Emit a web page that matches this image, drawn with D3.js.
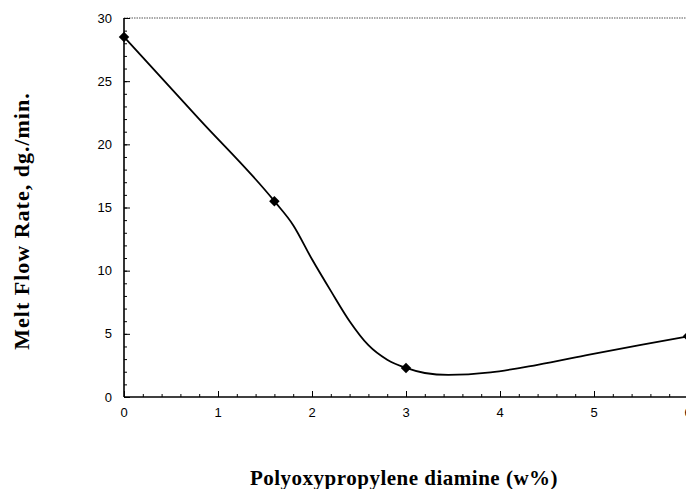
<!DOCTYPE html>
<html>
<head>
<meta charset="utf-8">
<script src="https://cdn.jsdelivr.net/npm/d3@7"></script>
<style>
  body { margin: 0; background: #fff; }
  svg { display: block; }
</style>
</head>
<body>
<div id="vis"></div>
<script>
const AMINE = [0, 1.6, 3, 6];
const MFR = [28.5, 15.5, 2.3, 4.8];

// smoothed curve as drawn in the picture
const CURVE_X = [0, 0.8, 1.6, 1.8, 2.0, 2.2, 2.4, 2.6, 2.8, 3.0, 3.2, 3.45, 3.9, 4.4, 4.95, 5.5, 6];
const CURVE_Y = [28.5, 22.0, 15.5, 13.6, 10.9, 8.4, 6.0, 4.1, 2.95, 2.3, 1.9, 1.75, 1.95, 2.55, 3.35, 4.12, 4.8];

const X_TICKS = [0, 1, 2, 3, 4, 5, 6];
const Y_TICKS = [0, 5, 10, 15, 20, 25, 30];

const FRAME_WIDTH = 686;
const FRAME_HEIGHT = 489;
const MARGINS = {left: 124, top: 18, right: -2, bottom: 92};

const VIS_WIDTH = FRAME_WIDTH - MARGINS.left - MARGINS.right;
const VIS_HEIGHT = FRAME_HEIGHT - MARGINS.top - MARGINS.bottom;

const FRAME = d3.select("#vis")
                .append("svg")
                .attr("width", FRAME_WIDTH)
                .attr("height", FRAME_HEIGHT);

const PLOT = FRAME.append("g")
                  .attr("transform", "translate(" + MARGINS.left + "," + MARGINS.top + ")");

const X_SCALE = d3.scaleLinear().domain([0, 6]).range([0, VIS_WIDTH]);
const Y_SCALE = d3.scaleLinear().domain([0, 30]).range([VIS_HEIGHT, 0]);

// dotted top border
PLOT.append("line")
    .attr("x1", 0).attr("x2", VIS_WIDTH)
    .attr("y1", 0).attr("y2", 0)
    .attr("stroke", "#555")
    .attr("stroke-width", 1.2)
    .attr("stroke-dasharray", "1.5,1");

// minor ticks (inward)
PLOT.append("g")
    .attr("transform", "translate(0," + VIS_HEIGHT + ")")
    .call(d3.axisTop(X_SCALE).ticks(30).tickSize(3).tickFormat(""))
    .call(g => g.select(".domain").remove());

PLOT.append("g")
    .call(d3.axisRight(Y_SCALE).ticks(30).tickSize(3).tickFormat(""))
    .call(g => g.select(".domain").remove());

// major ticks
PLOT.append("g")
    .attr("transform", "translate(0," + VIS_HEIGHT + ")")
    .call(d3.axisTop(X_SCALE).tickValues(X_TICKS).tickSize(6).tickFormat(""))
    .call(g => g.select(".domain").remove());

PLOT.append("g")
    .call(d3.axisRight(Y_SCALE).tickValues(Y_TICKS).tickSize(6).tickFormat(""))
    .call(g => g.select(".domain").remove());

// axis lines
PLOT.append("line")
    .attr("x1", 0).attr("x2", VIS_WIDTH)
    .attr("y1", VIS_HEIGHT).attr("y2", VIS_HEIGHT)
    .attr("stroke", "#000").attr("stroke-width", 1.6);

PLOT.append("line")
    .attr("x1", 0).attr("x2", 0)
    .attr("y1", 0).attr("y2", VIS_HEIGHT)
    .attr("stroke", "#000").attr("stroke-width", 1.6);

// tick labels
PLOT.append("g").selectAll("text")
    .data(X_TICKS)
    .enter()
    .append("text")
      .attr("x", (d) => { return X_SCALE(d); })
      .attr("y", VIS_HEIGHT + 20)
      .attr("text-anchor", "middle")
      .attr("font-family", "Liberation Sans, Arial, sans-serif")
      .attr("font-size", "13px")
      .text((d) => { return d; });

PLOT.append("g").selectAll("text")
    .data(Y_TICKS)
    .enter()
    .append("text")
      .attr("x", -12)
      .attr("y", (d) => { return Y_SCALE(d) + 4.5; })
      .attr("text-anchor", "end")
      .attr("font-family", "Liberation Sans, Arial, sans-serif")
      .attr("font-size", "13px")
      .text((d) => { return d; });

// smooth line
const CURVE = CURVE_X.map((a, i) => { return [a, CURVE_Y[i]]; });

const LINE = d3.line()
               .x((d) => { return X_SCALE(d[0]); })
               .y((d) => { return Y_SCALE(d[1]); })
               .curve(d3.curveMonotoneX);

PLOT.append("path")
    .datum(CURVE)
    .attr("d", LINE)
    .attr("fill", "none")
    .attr("stroke", "#000")
    .attr("stroke-width", 1.8);

// diamond markers
const POINTS = AMINE.map((a, i) => { return [a, MFR[i]]; });

PLOT.append("g").selectAll("path")
    .data(POINTS)
    .enter()
    .append("path")
      .attr("d", d3.symbol().type(d3.symbolDiamond2).size(70))
      .attr("transform", (d) => { return "translate(" + X_SCALE(d[0]) + "," + Y_SCALE(d[1]) + ")"; })
      .attr("fill", "#000");

// axis titles
FRAME.append("text")
     .attr("x", 404)
     .attr("y", 485)
     .attr("text-anchor", "middle")
     .attr("font-family", "Liberation Serif, Times New Roman, serif")
     .attr("font-weight", "bold")
     .attr("font-size", "21px")
     .attr("letter-spacing", "0.5px")
     .text("Polyoxypropylene diamine (w%)");

FRAME.append("text")
     .attr("transform", "translate(29,221) rotate(-90)")
     .attr("text-anchor", "middle")
     .attr("font-family", "Liberation Serif, Times New Roman, serif")
     .attr("font-weight", "bold")
     .attr("font-size", "22px")
     .attr("letter-spacing", "1px")
     .text("Melt Flow Rate, dg./min.");
</script>
</body>
</html>
